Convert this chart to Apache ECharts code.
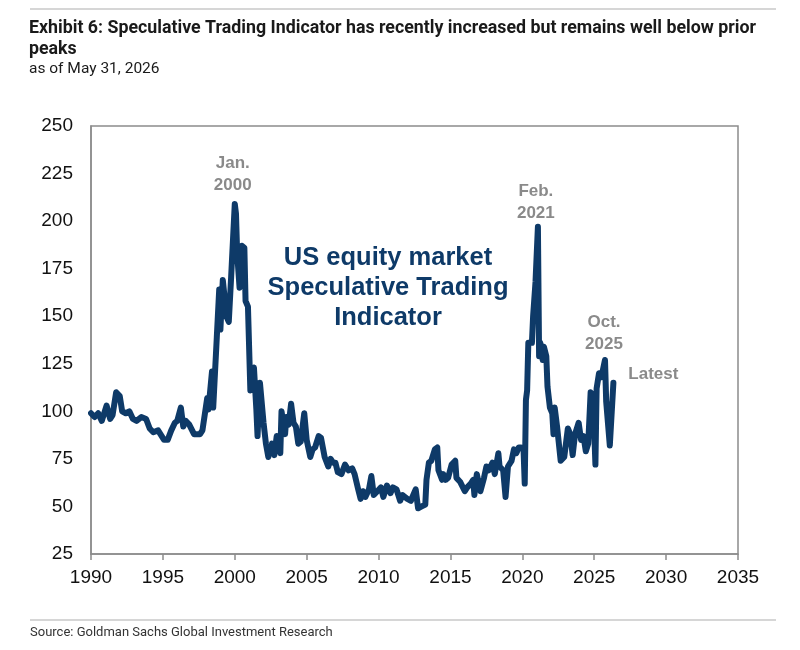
<!DOCTYPE html>
<html>
<head>
<meta charset="utf-8">
<script src="https://cdn.jsdelivr.net/npm/echarts@6/dist/echarts.min.js"></script>
<style>
  html, body { margin: 0; padding: 0; background: #fff; }
  #main { width: 800px; height: 650px; }
</style>
</head>
<body>
<div id="main"></div>
<script>
    var myChart = echarts.init(document.getElementById('main'));

    // month stamps ('YYYY-MM') and indicator readings
    var months = [
        '1990-01','1990-04','1990-07','1990-10','1991-02','1991-05','1991-07','1991-10',
        '1992-01','1992-03','1992-06','1992-09','1992-12','1993-03','1993-07','1993-11',
        '1994-02','1994-05','1994-09','1994-12','1995-02','1995-05','1995-08','1995-11',
        '1996-01','1996-04','1996-06','1996-08','1996-11','1997-03','1997-08','1997-10',
        '1998-02','1998-03','1998-06','1998-07','1998-10','1998-12','1999-01','1999-03',
        '1999-05','1999-06','1999-08','1999-10','2000-01','2000-02','2000-03','2000-05',
        '2000-07','2000-09','2000-10','2000-12','2001-02','2001-05','2001-07','2001-08',
        '2001-10','2002-01','2002-03','2002-05','2002-08','2002-10','2002-12','2003-03',
        '2003-04','2003-07','2003-08','2003-10','2003-12','2004-02','2004-04','2004-06',
        '2004-08','2004-11','2005-01','2005-04','2005-06','2005-08','2005-11','2006-01',
        '2006-04','2006-07','2006-09','2006-11','2007-01','2007-03','2007-06','2007-09',
        '2007-12','2008-03','2008-05','2008-08','2008-10','2008-12','2009-02','2009-05',
        '2009-07','2009-09','2009-12','2010-03','2010-05','2010-08','2010-11','2011-01',
        '2011-04','2011-07','2011-09','2012-01','2012-04','2012-06','2012-08','2012-10',
        '2013-01','2013-04','2013-05','2013-07','2013-09','2013-12','2014-02','2014-03',
        '2014-06','2014-07','2014-09','2014-11','2015-02','2015-05','2015-06','2015-09',
        '2016-01','2016-03','2016-06','2016-08','2016-09','2016-11','2017-02','2017-05',
        '2017-07','2017-09','2017-12','2018-02','2018-05','2018-06','2018-09','2018-11',
        '2019-01','2019-04','2019-06','2019-08','2019-10','2019-12','2020-02','2020-03',
        '2020-04','2020-05','2020-06','2020-07','2020-09','2020-10','2020-12','2021-02',
        '2021-03','2021-04','2021-06','2021-07','2021-09','2021-10','2021-12','2022-02',
        '2022-03','2022-04','2022-06','2022-09','2022-12','2023-03','2023-05','2023-07',
        '2023-09','2023-12','2024-02','2024-04','2024-06','2024-08','2024-10','2024-12',
        '2025-02','2025-03','2025-05','2025-07','2025-10','2025-11','2026-02','2026-03',
        '2026-05'
    ];
    var values = [
        99, 97, 99, 95, 103, 96, 98, 110,
        108, 100, 99, 100, 96, 95, 97, 96,
        91, 89, 90, 87, 85, 85, 90, 94,
        95, 102, 92, 95, 93, 88, 88, 90,
        107, 101, 121, 102, 139, 164, 143, 169,
        157, 150, 147, 171, 209, 204, 183, 165,
        187, 186, 158, 155, 111, 123, 101, 87,
        115, 94, 83, 76, 83, 77, 87, 78,
        100, 88, 97, 93, 104, 94, 92, 83,
        84, 99, 85, 76, 80, 81, 87, 86,
        76, 71, 75, 73, 73, 68, 67, 72,
        69, 70, 67, 59, 54, 58, 55, 59,
        66, 56, 58, 60, 55, 61, 57, 60,
        59, 53, 56, 54, 53, 56, 59, 49,
        50, 51, 64, 73, 74, 80, 81, 69,
        64, 67, 64, 65, 72, 74, 65, 63,
        58, 60, 62, 64, 56, 67, 58, 65,
        71, 69, 73, 67, 78, 71, 69, 55,
        71, 74, 80, 78, 81, 81, 80, 62,
        106, 111, 136, 137, 136, 150, 168, 197,
        129, 136, 127, 134, 129, 113, 102, 99,
        88, 102, 92, 74, 76, 91, 88, 77,
        88, 94, 85, 87, 79, 83, 110, 108,
        72, 112, 120, 118, 127, 105, 82, 81,
        115
    ];

    var yearTicks = [1990, 1995, 2000, 2005, 2010, 2015, 2020, 2025, 2030, 2035];
    var levelTicks = [25, 50, 75, 100, 125, 150, 175, 200, 225, 250];

    var seriesData = months.map(function (m, i) {
        var p = m.split('-');
        return [+p[0] + (+p[1] - 1) / 12, values[i]];
    });

    var navy = '#0e3a68';
    var grey = '#8a8a8a';
    var font = '"Liberation Sans", Arial, sans-serif';
    var narrow = 'Roboto, sans-serif';

    var option = {
        backgroundColor: '#fff',
        animation: false,
        grid: {
            left: 91, right: 62, top: 126, bottom: 96,
            show: true, borderColor: '#8c8c8c', borderWidth: 1.5
        },
        xAxis: {
            type: 'value',
            min: yearTicks[0], max: yearTicks[yearTicks.length - 1], interval: 5,
            axisLine: { lineStyle: { color: '#8c8c8c', width: 1.5 } },
            axisTick: { show: true, length: 6, lineStyle: { color: '#8c8c8c', width: 1.5 } },
            axisLabel: { color: '#111', fontSize: 19, fontFamily: font, margin: 14,
                         formatter: function (v) { return String(v); } },
            splitLine: { show: false }
        },
        yAxis: {
            type: 'value',
            min: levelTicks[0], max: levelTicks[levelTicks.length - 1], interval: 25,
            axisLine: { show: true, lineStyle: { color: '#8c8c8c', width: 1.5 } },
            axisTick: { show: false },
            axisLabel: { color: '#111', fontSize: 19, fontFamily: font, margin: 18 },
            splitLine: { show: false }
        },
        series: [{
            type: 'line',
            data: seriesData,
            showSymbol: false,
            lineStyle: { color: navy, width: 6, join: 'round', cap: 'round' },
            markPoint: {
                symbol: 'circle', symbolSize: 0,
                label: {
                    show: true, color: grey, fontWeight: 'bold', fontSize: 17,
                    fontFamily: font, lineHeight: 22, align: 'center'
                },
                data: [
                    { coord: [2000, 209], value: 'Jan.\n2000', label: { offset: [-2, -30] } },
                    { coord: [2021.08, 197], value: 'Feb.\n2021', label: { offset: [-2, -25] } },
                    { coord: [2025.75, 127], value: 'Oct.\n2025', label: { offset: [-1, -27] } },
                    { coord: [2026.33, 115], value: 'Latest', label: { offset: [40, -8] } }
                ]
            }
        }],
        graphic: [
            { type: 'line', shape: { x1: 30, y1: 9, x2: 776, y2: 9 },
              style: { stroke: '#c8c8c8', lineWidth: 1.5 } },
            { type: 'text', left: 29, top: 18,
              style: { text: 'Exhibit 6: Speculative Trading Indicator has recently increased but remains well below prior\npeaks',
                       font: 'bold 17.8px ' + narrow, fill: '#1a1a1a', lineHeight: 21 } },
            { type: 'text', left: 29, top: 61,
              style: { text: 'as of May 31, 2026', font: '15.5px ' + narrow, fill: '#1a1a1a' } },
            { type: 'text', x: 388, y: 243,
              style: { text: 'US equity market\nSpeculative Trading\nIndicator', align: 'center',
                       font: 'bold 25.5px ' + font, fill: navy, lineHeight: 30 } },
            { type: 'line', shape: { x1: 30, y1: 620, x2: 776, y2: 620 },
              style: { stroke: '#c8c8c8', lineWidth: 1.5 } },
            { type: 'text', left: 30, top: 626,
              style: { text: 'Source: Goldman Sachs Global Investment Research',
                       font: '13px ' + narrow, fill: '#333' } }
        ]
    };
    myChart.setOption(option);
</script>
</body>
</html>
